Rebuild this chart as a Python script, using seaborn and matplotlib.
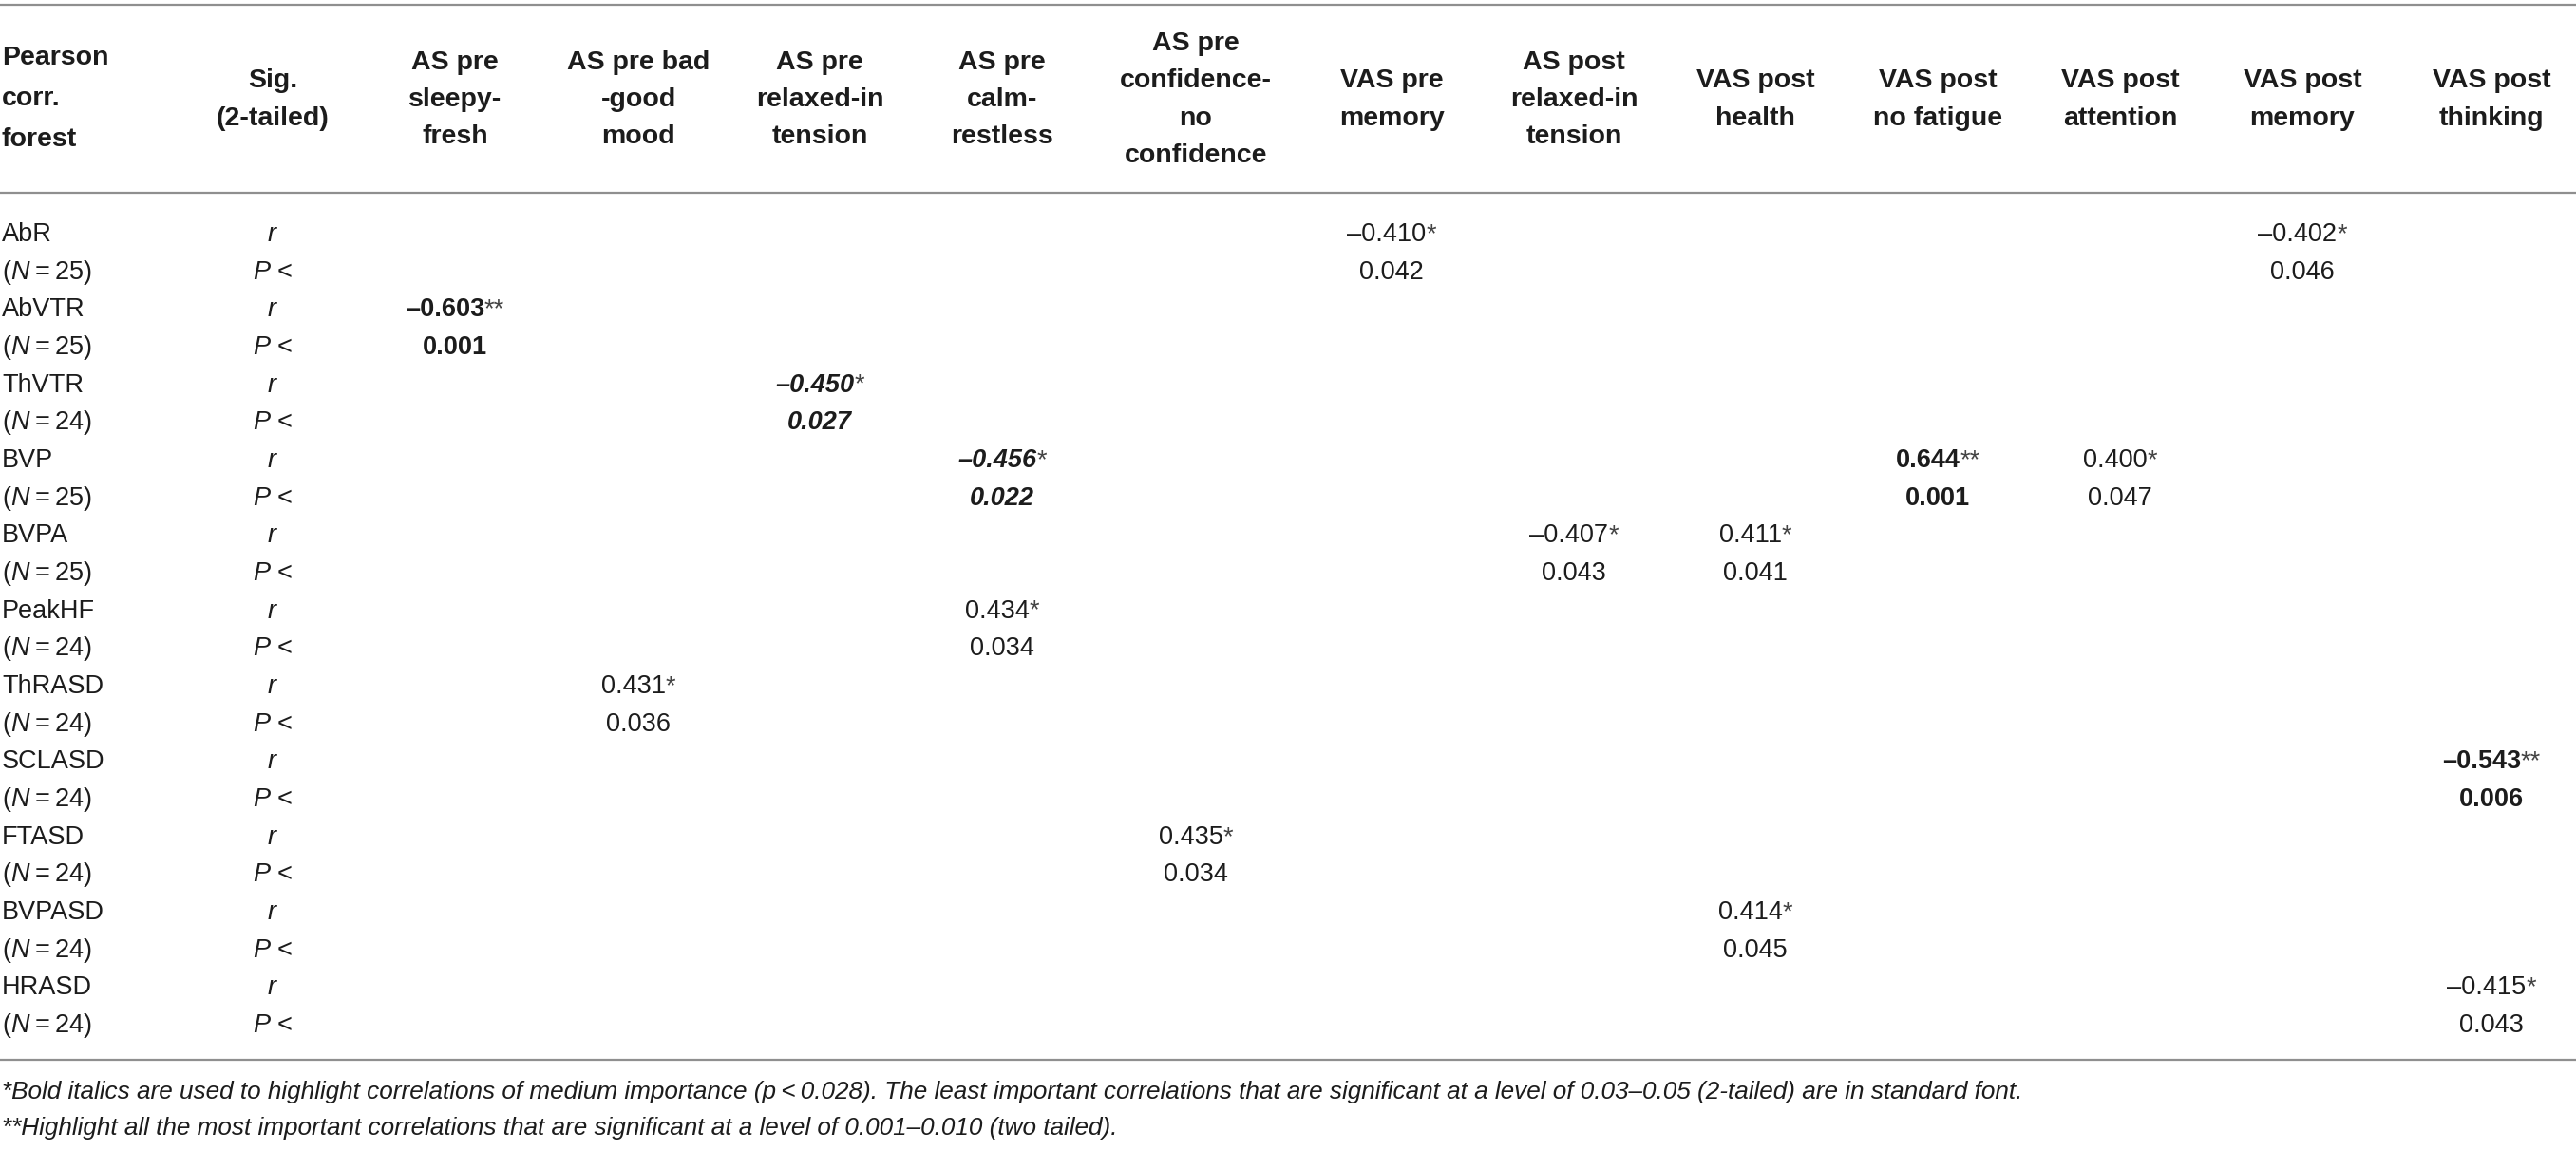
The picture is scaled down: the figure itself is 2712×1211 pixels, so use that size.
"""Correlation table: forest physiology vs. mood scales."""
import matplotlib
matplotlib.use("Agg")
import matplotlib.pyplot as plt
import seaborn as sns
from matplotlib.offsetbox import TextArea, HPacker, AnnotationBbox

sns.set_theme(style="white")
plt.rcParams["font.family"] = ["Liberation Sans", "DejaVu Sans"]
plt.rcParams["mathtext.fontset"] = "custom"
plt.rcParams["mathtext.rm"] = "Liberation Sans"
plt.rcParams["mathtext.it"] = "Liberation Sans:italic"

# ---- data ----
corner_header = "Pearson\ncorr.\nforest"
sig_header = "Sig.\n(2-tailed)"
col_headers = [
    "AS pre\nsleepy-\nfresh",
    "AS pre bad\n-good\nmood",
    "AS pre\nrelaxed-in\ntension",
    "AS pre\ncalm-\nrestless",
    "AS pre\nconfidence-\nno\nconfidence",
    "VAS pre\nmemory",
    "AS post\nrelaxed-in\ntension",
    "VAS post\nhealth",
    "VAS post\nno fatigue",
    "VAS post\nattention",
    "VAS post\nmemory",
    "VAS post\nthinking",
]
row_names = ["AbR", "AbVTR", "ThVTR", "BVP", "BVPA", "PeakHF",
             "ThRASD", "SCLASD", "FTASD", "BVPASD", "HRASD"]
row_n = [25, 25, 24, 25, 25, 24, 24, 24, 24, 24, 24]

cell_row = ["AbR", "AbR", "AbVTR", "ThVTR", "BVP", "BVP", "BVP", "BVPA", "BVPA",
            "PeakHF", "ThRASD", "SCLASD", "FTASD", "BVPASD", "HRASD"]
cell_col = [5, 10, 0, 2, 3, 8, 9, 6, 7, 3, 1, 11, 4, 7, 11]
cell_r = [-0.410, -0.402, -0.603, -0.450, -0.456, 0.644, 0.400, -0.407, 0.411,
          0.434, 0.431, -0.543, 0.435, 0.414, -0.415]
cell_p = [0.042, 0.046, 0.001, 0.027, 0.022, 0.001, 0.047, 0.043, 0.041,
          0.034, 0.036, 0.006, 0.034, 0.045, 0.043]
cell_stars = ["*", "*", "**", "*", "*", "**", "*", "*", "*",
              "*", "*", "**", "*", "*", "*"]

footnotes = [
    "*Bold italics are used to highlight correlations of medium importance (p\u2009<\u20090.028). "
    "The least important correlations that are significant at a level of 0.03\u20130.05 (2-tailed) "
    "are in standard font.",
    "**Highlight all the most important correlations that are significant at a level of "
    "0.001\u20130.010 (two tailed).",
]

# ---- layout (pixels) ----
W, H = 2712, 1211
sig_x = 287
col_x = [479, 672, 863, 1055, 1259, 1465, 1657, 1848, 2040, 2232, 2424, 2623]
first_row_y = 247
row_step = 39.67
FS = 19.5
HFS = 20.5
INK = "#1c1c1c"
RULE = "#8f8f8f"

fig = plt.figure(figsize=(W / 100, H / 100), dpi=100)
ax = fig.add_axes([0, 0, 1, 1])
ax.set_xlim(0, W)
ax.set_ylim(H, 0)
ax.axis("off")

# rules
for y in (5, 203, 1116):
    ax.axhline(y, color=RULE, lw=1.6)

# header
ax.text(2, 104, corner_header, ha="left", va="center", fontsize=HFS,
        fontweight="bold", color=INK, linespacing=1.84)
ax.text(sig_x, 105, sig_header, ha="center", va="center", fontsize=HFS,
        fontweight="bold", color=INK, linespacing=1.67)
for x, label in zip(col_x, col_headers):
    ax.text(x, 105, label, ha="center", va="center", fontsize=HFS,
            fontweight="bold", color=INK, linespacing=1.67)

# row labels
for i, (name, n) in enumerate(zip(row_names, row_n)):
    y_r = first_row_y + 2 * i * row_step
    y_p = y_r + row_step
    ax.text(2, y_r, name, ha="left", va="center", fontsize=FS, color=INK)
    ax.text(2, y_p, "($N$\u2009=\u2009%d)" % n, ha="left", va="center",
            fontsize=FS, color=INK)
    ax.text(sig_x, y_r, "$r$", ha="center", va="center", fontsize=FS, color=INK)
    ax.text(sig_x, y_p, "$P$ <", ha="center", va="center", fontsize=FS, color=INK)


def fmt(v):
    return ("%.3f" % v).replace("-", "\u2013")


def put_value(x, y, text, stars, weight, style):
    parts = [TextArea(text, textprops=dict(fontsize=FS, fontweight=weight,
                                           fontstyle=style, color=INK))]
    if stars:
        parts.append(TextArea(stars, textprops=dict(fontsize=FS, color="#444444")))
    box = HPacker(children=parts, align="baseline", pad=0, sep=0)
    ab = AnnotationBbox(box, (x, y), xycoords="data", frameon=False,
                        box_alignment=(0.5, 0.5), pad=0)
    ax.add_artist(ab)


# cells
for name, c, r, p, st in zip(cell_row, cell_col, cell_r, cell_p, cell_stars):
    i = row_names.index(name)
    y_r = first_row_y + 2 * i * row_step
    if st == "**":
        weight, style = "bold", "normal"
    elif p < 0.028:
        weight, style = "bold", "italic"
    else:
        weight, style = "normal", "normal"
    put_value(col_x[c], y_r, fmt(r), st, weight, style)
    put_value(col_x[c], y_r + row_step, "%.3f" % p, "", weight, style)

# footnotes
for k, note in enumerate(footnotes):
    ax.text(2, 1150 + 38 * k, note, ha="left", va="center", fontsize=18.8,
            fontstyle="italic", color=INK)

fig.savefig("out.png", dpi=100)
plt.close(fig)
